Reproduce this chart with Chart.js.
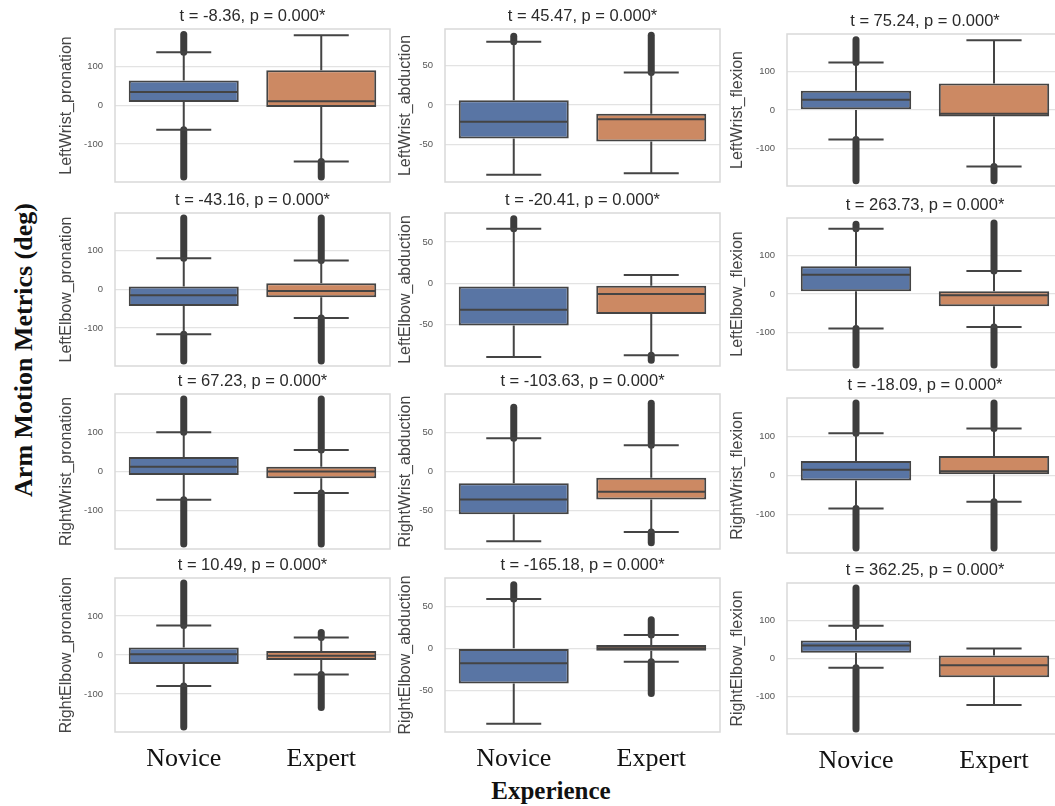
<!DOCTYPE html>
<html>
<head>
<meta charset="utf-8">
<script src="https://cdn.jsdelivr.net/npm/chart.js@4.4.0/dist/chart.umd.min.js"></script>
<style>
html, body { margin: 0; padding: 0; background: #fff; overflow: hidden; }
#fig { position: relative; width: 1055px; height: 806px; overflow: hidden; }
#fig canvas { position: absolute; }
.lab { position: absolute; font-family: 'Liberation Serif', serif; font-weight: bold; font-size: 26px; color: #111; white-space: nowrap; line-height: 1; }
#ylab { left: 24px; top: 350px; transform: translate(-50%, -50%) rotate(-90deg); }
#xlab { left: 551px; top: 790px; transform: translate(-50%, -50%); font-size: 25px; }
</style>
</head>
<body>
<div id="fig">
  <div class="lab" id="ylab">Arm Motion Metrics (deg)</div>
  <div class="lab" id="xlab">Experience</div>
</div>
<script>
// ---- data ----
var groups = ["Novice", "Expert"];
var metrics = [
  "LeftWrist_pronation", "LeftWrist_abduction", "LeftWrist_flexion",
  "LeftElbow_pronation", "LeftElbow_abduction", "LeftElbow_flexion",
  "RightWrist_pronation", "RightWrist_abduction", "RightWrist_flexion",
  "RightElbow_pronation", "RightElbow_abduction", "RightElbow_flexion"
];
var tValues = [-8.36, 45.47, 75.24, -43.16, -20.41, 263.73, 67.23, -103.63, -18.09, 10.49, -165.18, 362.25];
var pValues = ["0.000", "0.000", "0.000", "0.000", "0.000", "0.000", "0.000", "0.000", "0.000", "0.000", "0.000", "0.000"];

// [lower whisker, Q1, median, Q3, upper whisker]
var noviceBox = [
  [-63, 9, 35, 65, 138], [-88, -42, -21, 6, 80], [-77, 0, 27, 50, 124],
  [-116, -43, -15, 8, 81], [-89, -51, -32, -4, 66], [-90, 7, 50, 72, 170],
  [-72, -9, 12, 37, 100], [-90, -55, -36, -15, 43], [-84, -13, 15, 37, 108],
  [-80, -23, 2, 19, 76], [-90, -42, -18, 0, 59], [-24, 15, 34, 47, 86]
];
var expertBox = [
  [-145, -4, 11, 91, 182], [-86, -46, -18, -11, 41], [-147, -17, -10, 69, 182],
  [-74, -20, -4, 16, 75], [-87, -37, -13, -3, 10], [-86, -32, -3, 7, 60],
  [-55, -17, 0, 12, 55], [-78, -36, -26, -8, 34], [-67, 3, 11, 50, 120],
  [-50, -13, -2, 10, 45], [-16, -3, 0, 4, 16], [-122, -49, -18, 8, 26]
];
// most extreme outliers [low, high]; null = no outliers on that side
var noviceOutliers = [
  [-185, 184], [null, 87], [-184, 183],
  [-185, 185], [null, 78], [-185, 182],
  [-185, 185], [null, 83], [-185, 185],
  [-185, 185], [null, 76], [-185, 185]
];
var expertOutliers = [
  [-185, null], [null, 88], [-184, null],
  [-185, 185], [-93, null], [-185, 185],
  [-185, 185], [-92, 88], [-185, 185],
  [-135, 58], [-54, 34], [null, null]
];
var yMin = [-198, -97, -198, -198, -100, -198, -198, -100, -198, -198, -100, -198];
var yMax = [198, 96, 198, 198, 85, 198, 198, 100, 198, 198, 84, 198];
var wideTicks = [-100, 0, 100];
var narrowTicks = [-50, 0, 50];

// ---- layout ----
var colLeft = [115, 445, 787];
var colWidth = [275, 275, 276];
var rowTop = [[29, 29, 34], [213, 213, 218], [394, 394, 398], [578, 578, 583]];
var rowHeight = [[153, 153, 152], [153, 153, 152], [155, 155, 155], [154, 154, 151]];
var labelGap = [48, 39, 49];
var boxColors = ["#5975a4", "#cc8963"];
var lineGrey = "#444444";

var boxExtras = {
  id: "boxExtras",
  beforeDatasetsDraw: function(chart, args, opts) {
    var ctx = chart.ctx, y = chart.scales.y, area = chart.chartArea;
    var meta = chart.getDatasetMeta(0);
    ctx.save();
    ctx.strokeStyle = "#d9d9d9";
    ctx.lineWidth = 1.5;
    ctx.strokeRect(area.left, area.top, area.right - area.left, area.bottom - area.top);
    meta.data.forEach(function(bar, k) {
      var s = opts.stats[k], o = opts.outliers[k];
      var half = bar.width / 2;
      ctx.strokeStyle = "#3d3d3d";
      ctx.lineCap = "round";
      ctx.lineWidth = 7;
      [[0, 0], [1, 4]].forEach(function(p) {
        if (o[p[0]] === null) return;
        ctx.beginPath();
        ctx.moveTo(bar.x, y.getPixelForValue(s[p[1]]));
        ctx.lineTo(bar.x, y.getPixelForValue(o[p[0]]));
        ctx.stroke();
      });
      ctx.lineCap = "butt";
      ctx.lineWidth = 2;
      ctx.strokeStyle = lineGrey;
      ctx.beginPath();
      ctx.moveTo(bar.x, y.getPixelForValue(s[0]));
      ctx.lineTo(bar.x, y.getPixelForValue(s[1]));
      ctx.moveTo(bar.x, y.getPixelForValue(s[3]));
      ctx.lineTo(bar.x, y.getPixelForValue(s[4]));
      ctx.moveTo(bar.x - half / 2, y.getPixelForValue(s[0]));
      ctx.lineTo(bar.x + half / 2, y.getPixelForValue(s[0]));
      ctx.moveTo(bar.x - half / 2, y.getPixelForValue(s[4]));
      ctx.lineTo(bar.x + half / 2, y.getPixelForValue(s[4]));
      ctx.stroke();
    });
    ctx.restore();
  },
  afterDatasetsDraw: function(chart, args, opts) {
    var ctx = chart.ctx, y = chart.scales.y;
    var meta = chart.getDatasetMeta(0);
    ctx.save();
    ctx.strokeStyle = lineGrey;
    ctx.lineWidth = 2;
    meta.data.forEach(function(bar, k) {
      var half = bar.width / 2;
      var py = y.getPixelForValue(opts.stats[k][2]);
      ctx.beginPath();
      ctx.moveTo(bar.x - half + 1, py);
      ctx.lineTo(bar.x + half - 1, py);
      ctx.stroke();
    });
    ctx.restore();
  }
};

function makePanel(i) {
  var r = Math.floor(i / 3), c = i % 3;
  var bottomRow = r === 3;
  var padL = 75, padT = 36, padR = 4, padB = bottomRow ? 45 : 4;
  var fig = document.getElementById("fig");
  var canvas = document.createElement("canvas");
  canvas.width = padL + colWidth[c] + padR;
  canvas.height = padT + rowHeight[r][c] + padB;
  canvas.style.left = (colLeft[c] - padL) + "px";
  canvas.style.top = (rowTop[r][c] - padT) + "px";
  fig.appendChild(canvas);
  var nb = noviceBox[i], eb = expertBox[i];
  var ticks = c === 1 ? narrowTicks : wideTicks;

  new Chart(canvas.getContext("2d"), {
    type: "bar",
    data: {
      labels: groups,
      datasets: [{
        data: [[nb[1], nb[3]], [eb[1], eb[3]]],
        backgroundColor: boxColors,
        borderColor: lineGrey,
        borderWidth: 2,
        borderSkipped: false,
        barPercentage: 0.8,
        categoryPercentage: 1
      }]
    },
    options: {
      responsive: false,
      animation: false,
      devicePixelRatio: 1,
      events: [],
      layout: { padding: { left: 0, right: padR, top: 0, bottom: 0 } },
      plugins: {
        legend: { display: false },
        tooltip: { enabled: false },
        title: {
          display: true,
          fullSize: false,
          text: "t = " + tValues[i].toFixed(2) + ", p = " + pValues[i] + "*",
          color: "#2a2a2a",
          font: { family: "'Liberation Sans', Arial, sans-serif", size: 16.5, weight: "normal", lineHeight: 1 },
          padding: { top: padT - 16.5 - 4.25, bottom: 4.25 }
        },
        boxExtras: { stats: [nb, eb], outliers: [noviceOutliers[i], expertOutliers[i]] }
      },
      scales: {
        x: {
          grid: { display: false },
          border: { display: false },
          ticks: {
            color: "#111",
            font: { family: "'Liberation Serif', 'Times New Roman', serif", size: 26 },
            padding: 4,
            callback: function(v, idx) { return bottomRow ? groups[idx] : ""; }
          },
          afterFit: function(s) { s.height = padB; }
        },
        y: {
          min: yMin[i],
          max: yMax[i],
          grid: { color: "#e3e3e3", lineWidth: 1.3, drawTicks: false },
          border: { display: false },
          ticks: {
            color: "#555",
            font: { family: "'Liberation Sans', Arial, sans-serif", size: 9.5 },
            padding: 12
          },
          afterBuildTicks: function(s) {
            s.ticks = ticks.map(function(v) { return { value: v }; });
          },
          afterFit: function(s) {
            s.width = padL;
            s.paddingTop = 0;
            s.paddingBottom = 0;
          },
          title: {
            display: true,
            text: metrics[i],
            color: "#444",
            font: { family: "'Liberation Sans', Arial, sans-serif", size: 16, lineHeight: 1.2 },
            padding: { top: padL - labelGap[c] - 9.6, bottom: 0 }
          }
        }
      }
    },
    plugins: [boxExtras]
  });
}

for (var i = 0; i < 12; i++) makePanel(i);
</script>
</body>
</html>
